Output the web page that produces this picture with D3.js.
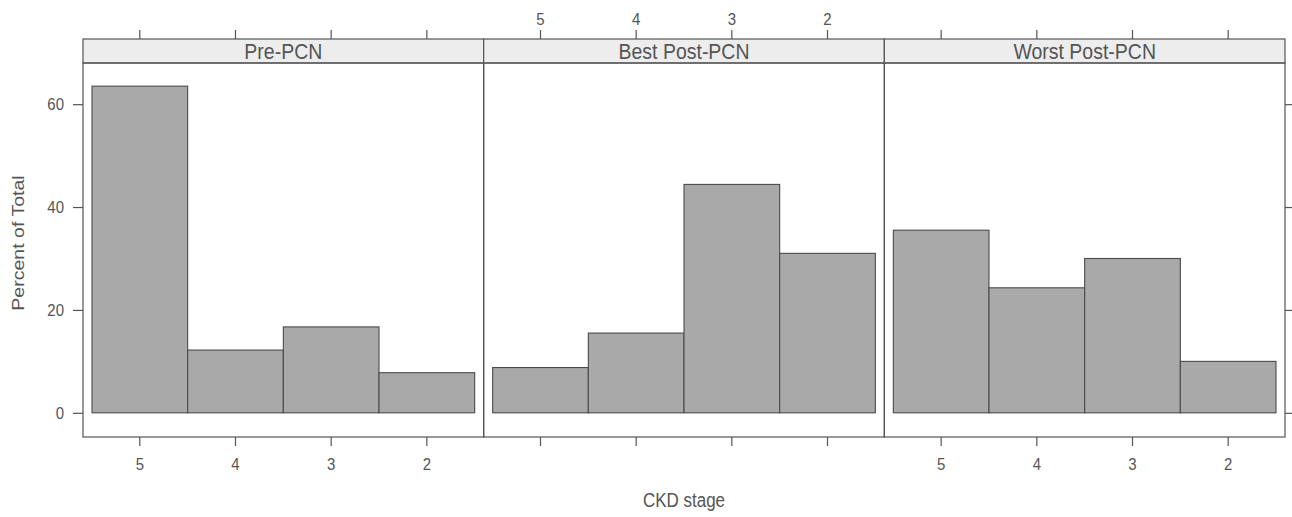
<!DOCTYPE html>
<html>
<head>
<meta charset="utf-8">
<script src="https://cdn.jsdelivr.net/npm/d3@7"></script>
<style>
  html, body { margin: 0; padding: 0; background: #ffffff; }
  svg { display: block; font-family: "Liberation Sans", Arial, sans-serif; }
</style>
</head>
<body>
<svg id="chart" width="1292" height="517"></svg>
<script>
// ---- data ----
const stages = ["5", "4", "3", "2"];
const panelNames = ["Pre-PCN", "Best Post-PCN", "Worst Post-PCN"];
const prePCN = [63.5, 12.2, 16.7, 7.8];
const bestPostPCN = [8.8, 15.5, 44.4, 31.0];
const worstPostPCN = [35.5, 24.3, 30.0, 10.0];
const yTicks = [0, 20, 40, 60];
const seriesList = [prePCN, bestPostPCN, worstPostPCN];

// ---- layout ----
const svg = d3.select("#chart");
const left = 83, right = 1285;
const stripTop = 39, stripBottom = 63, plotBottom = 437;
const panelW = (right - left) / panelNames.length;
const lineCol = "#555555", textCol = "#555555";
const sy = 1.15; // vertical stretch of glyphs in the reference

const y = d3.scaleLinear().domain([-4.7, 68]).range([plotBottom, stripBottom]);
const x = d3.scaleBand().domain(stages).range([0, panelW]).paddingInner(0).paddingOuter(0.094);

function stretchText(sel, size) {
  sel.each(function() {
    const t = d3.select(this);
    const yy = +t.attr("y") || 0;
    const xx = +t.attr("x") || 0;
    t.attr("y", 0).attr("x", 0)
     .attr("transform", `translate(${xx},${yy}) scale(1,${sy})`);
  }).attr("font-size", size).attr("fill", textCol).attr("font-family", "Liberation Sans, Arial, sans-serif");
}

panelNames.forEach((name, i) => {
  const x0 = left + i * panelW;
  const g = svg.append("g").attr("transform", `translate(${x0},0)`);

  // bars
  g.selectAll("rect.bar").data(seriesList[i]).join("rect")
    .attr("class", "bar")
    .attr("x", (d, k) => x(stages[k]))
    .attr("width", x.bandwidth())
    .attr("y", d => y(d))
    .attr("height", d => y(0) - y(d))
    .attr("fill", "#a9a9a9")
    .attr("stroke", "#4a4a4a")
    .attr("stroke-width", 1.1);

  // strip
  g.append("rect").attr("x", 0).attr("y", stripTop).attr("width", panelW).attr("height", stripBottom - stripTop)
    .attr("fill", "#ededed").attr("stroke", lineCol).attr("stroke-width", 1.2);
  const st = g.append("text").attr("x", panelW / 2).attr("y", (stripTop + stripBottom) / 2)
    .attr("text-anchor", "middle").attr("dy", "0.35em").text(name);
  stretchText(st, "19.5px");

  // panel border
  g.append("rect").attr("x", 0).attr("y", stripBottom).attr("width", panelW).attr("height", plotBottom - stripBottom)
    .attr("fill", "none").attr("stroke", lineCol).attr("stroke-width", 1.2);

  // top axis (above strip)
  const topAx = d3.axisTop(x).tickSize(9).tickSizeOuter(0).tickPadding(5)
    .tickFormat(i === 1 ? (d => d) : (() => ""));
  const gt = g.append("g").attr("transform", `translate(0,${stripTop})`).call(topAx);
  gt.select(".domain").remove();
  gt.selectAll("line").attr("stroke", lineCol).attr("stroke-width", 1.2);
  stretchText(gt.selectAll("text"), "15px");

  // bottom axis
  const botAx = d3.axisBottom(x).tickSize(9).tickSizeOuter(0).tickPadding(12)
    .tickFormat(i !== 1 ? (d => d) : (() => ""));
  const gb = g.append("g").attr("transform", `translate(0,${plotBottom})`).call(botAx);
  gb.select(".domain").remove();
  gb.selectAll("line").attr("stroke", lineCol).attr("stroke-width", 1.2);
  stretchText(gb.selectAll("text"), "15px");
});

// left y axis
const yl = svg.append("g").attr("transform", `translate(${left},0)`)
  .call(d3.axisLeft(y).tickValues(yTicks).tickSize(10).tickSizeOuter(0).tickPadding(9));
yl.select(".domain").remove();
yl.selectAll("line").attr("stroke", lineCol).attr("stroke-width", 1.2);
stretchText(yl.selectAll("text"), "15px");

// right y axis (ticks only)
const yr = svg.append("g").attr("transform", `translate(${right},0)`)
  .call(d3.axisRight(y).tickValues(yTicks).tickSize(8).tickSizeOuter(0).tickFormat(() => ""));
yr.select(".domain").remove();
yr.selectAll("line").attr("stroke", lineCol).attr("stroke-width", 1.2);

// axis titles
svg.append("text")
  .attr("transform", `translate(18,243) rotate(-90) scale(${sy},1)`)
  .attr("text-anchor", "middle").attr("dy", "0.35em")
  .attr("font-size", "17px").attr("fill", textCol)
  .text("Percent of Total");

const xt = svg.append("text").attr("x", (left + right) / 2).attr("y", 500)
  .attr("text-anchor", "middle").attr("dy", "0.35em").text("CKD stage");
stretchText(xt, "17px");
</script>
</body>
</html>
